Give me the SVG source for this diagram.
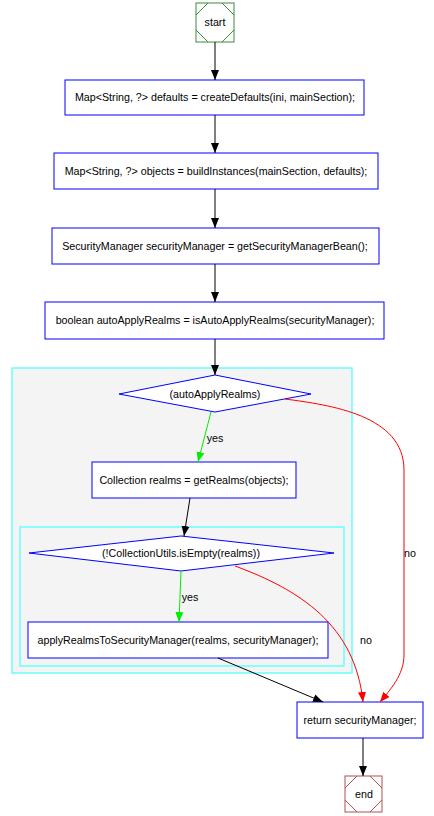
<svg xmlns="http://www.w3.org/2000/svg" width="434" height="816" viewBox="0 0 434 816">
<style>
text{font-family:"Liberation Sans",Arial,sans-serif;font-size:10.7px;fill:#000;text-anchor:middle}
.box{fill:#fff;stroke:#0000ff;stroke-width:1}
.dia{fill:#fff;stroke:#0000ff;stroke-width:1}
.cl{fill:#f4f4f4;stroke:#66ffff;stroke-width:1.5}
.e{fill:none;stroke:#000;stroke-width:1}
.g{fill:none;stroke:#00ee00;stroke-width:1}
.r{fill:none;stroke:#ff0000;stroke-width:1}
</style>
<defs>
<marker id="ab" viewBox="0 0 10 10" refX="10" refY="5" markerWidth="10" markerHeight="10" markerUnits="userSpaceOnUse" orient="auto"><path d="M0,1 L10,5 L0,9 Z" fill="#000"/></marker>
<marker id="ag" viewBox="0 0 10 10" refX="10" refY="5" markerWidth="10" markerHeight="10" markerUnits="userSpaceOnUse" orient="auto"><path d="M0,1 L10,5 L0,9 Z" fill="#00ee00"/></marker>
<marker id="ar" viewBox="0 0 10 10" refX="10" refY="5" markerWidth="10" markerHeight="10" markerUnits="userSpaceOnUse" orient="auto"><path d="M0,1 L10,5 L0,9 Z" fill="#ff0000"/></marker>
</defs>
<rect width="434" height="816" fill="#fff"/>
<g id="cluster_outer"><rect class="cl" x="12" y="368" width="340" height="305"/></g>
<g id="cluster_inner"><rect class="cl" x="20" y="527" width="324" height="139"/></g>
<g id="start">
<rect x="196" y="3" width="38" height="39" fill="#fff" stroke="#3c8c3c"/>
<path d="M196,15 L208,3 M222,3 L234,15 M234,30 L222,42 M208,42 L196,30" stroke="#3c8c3c" fill="none"/>
<text x="215" y="26">start</text>
</g>
<g id="n1"><rect class="box" x="65" y="80" width="299" height="35"/><text x="215" y="101">Map&lt;String, ?&gt; defaults = createDefaults(ini, mainSection);</text></g>
<g id="n2"><rect class="box" x="54" y="153" width="324" height="36"/><text x="216" y="175">Map&lt;String, ?&gt; objects = buildInstances(mainSection, defaults);</text></g>
<g id="n3"><rect class="box" x="52" y="228" width="327" height="36"/><text x="215" y="250">SecurityManager securityManager = getSecurityManagerBean();</text></g>
<g id="n4"><rect class="box" x="45" y="302" width="339" height="37"/><text x="215" y="324">boolean autoApplyRealms = isAutoApplyRealms(securityManager);</text></g>
<g id="d1"><polygon class="dia" points="215,375 311,394 215,412 119,394"/><text x="215" y="398">(autoApplyRealms)</text></g>
<g id="n5"><rect class="box" x="92" y="462" width="204" height="36"/><text x="194" y="484">Collection realms = getRealms(objects);</text></g>
<g id="d2"><polygon class="dia" points="181,536 334,553 181,571 29,553"/><text x="181" y="557">(!CollectionUtils.isEmpty(realms))</text></g>
<g id="n6"><rect class="box" x="28" y="622" width="300" height="36"/><text x="178" y="644">applyRealmsToSecurityManager(realms, securityManager);</text></g>
<g id="n7"><rect class="box" x="297" y="702" width="126" height="36"/><text x="360" y="724">return securityManager;</text></g>
<g id="end">
<rect x="345" y="776" width="37" height="36" fill="#fff" stroke="#b05050"/>
<path d="M345,788 L357,776 M370,776 L382,788 M382,800 L370,812 M357,812 L345,800" stroke="#b05050" fill="none"/>
<text x="364" y="798">end</text>
</g>
<g id="edges">
<line class="e" x1="215" y1="42" x2="215" y2="80" marker-end="url(#ab)"/>
<line class="e" x1="215" y1="115" x2="215" y2="153" marker-end="url(#ab)"/>
<line class="e" x1="215" y1="189" x2="215" y2="228" marker-end="url(#ab)"/>
<line class="e" x1="215" y1="264" x2="215" y2="302" marker-end="url(#ab)"/>
<line class="e" x1="215" y1="339" x2="215" y2="375" marker-end="url(#ab)"/>
<line class="g" x1="211" y1="412" x2="198" y2="462" marker-end="url(#ag)"/>
<text x="215" y="442">yes</text>
<line class="e" x1="190" y1="498" x2="184" y2="536" marker-end="url(#ab)"/>
<line class="g" x1="181" y1="571" x2="179" y2="622" marker-end="url(#ag)"/>
<text x="190" y="601">yes</text>
<line class="e" x1="218" y1="658" x2="323" y2="702" marker-end="url(#ab)"/>
<line class="e" x1="363" y1="738" x2="363" y2="776" marker-end="url(#ab)"/>
<path class="r" d="M285,399 C330,405 404,415 404,470 L404,655 C404,675 390,690 380,702" marker-end="url(#ar)"/>
<text x="410" y="557">no</text>
<path class="r" d="M235,566 C300,590 355,625 363,702" marker-end="url(#ar)"/>
<text x="366" y="644">no</text>
</g>
</svg>
